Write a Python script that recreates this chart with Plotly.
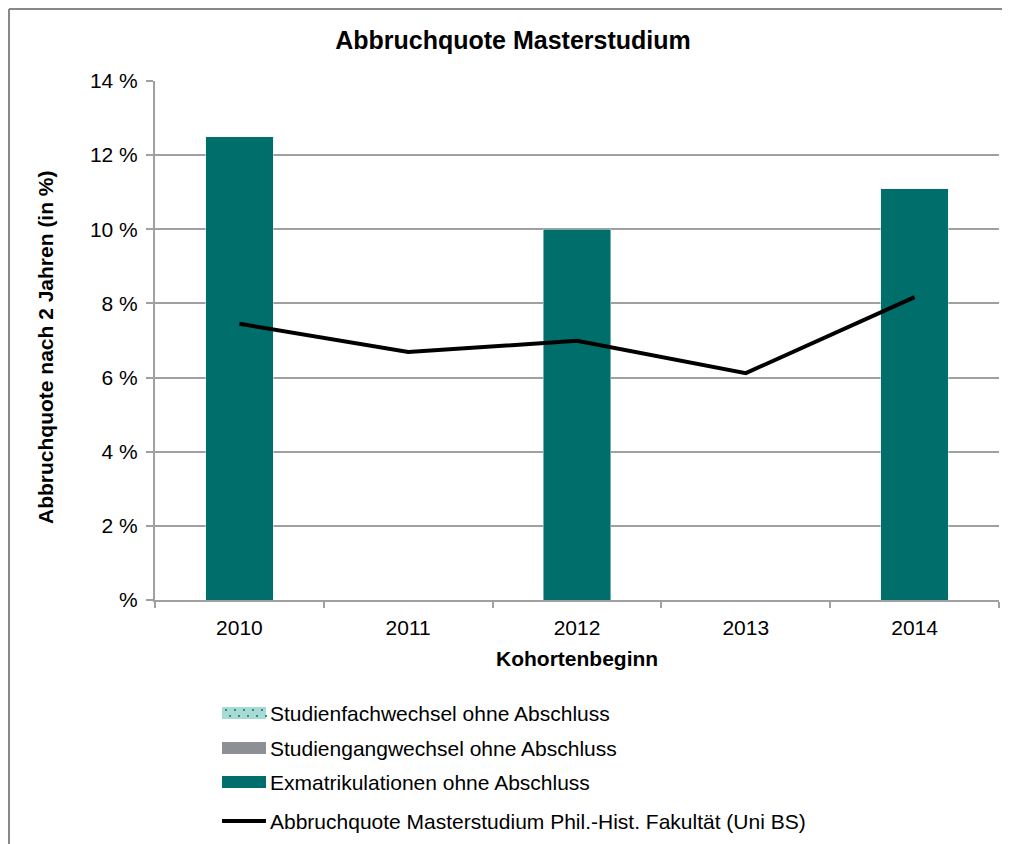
import plotly.graph_objects as go

# data
jahre = ["2010", "2011", "2012", "2013", "2014"]
fachwechsel = [0, 0, 0, 0, 0]
gangwechsel = [0, 0, 0, 0, 0]
exmatrikulation = [12.5, None, 10.0, None, 11.1]
abbruchquote_fak = [7.45, 6.69, 6.99, 6.12, 8.17]

ytick_vals = [0, 2, 4, 6, 8, 10, 12, 14]
ytick_text = ["%", "2 %", "4 %", "6 %", "8 %", "10 %", "12 %", "14 %"]

legend_names = [
    "Studienfachwechsel ohne Abschluss",
    "Studiengangwechsel ohne Abschluss",
    "Exmatrikulationen ohne Abschluss",
    "Abbruchquote Masterstudium Phil.-Hist. Fakultät (Uni BS)",
]

TEAL = "#006F6B"
GRAY = "#8C8F93"
LIGHT = "#A6DAD3"
GRID = "#A0A0A0"
FONT = "Liberation Sans, Arial, sans-serif"

# the page puts the plot 8px in from the top left corner
OFF = 8
W, H = 1010, 844
L, R, T, B = 147, 19, 73, 252
PW, PH = W - L - R, H - T - B


def px(x):
    # page pixel -> paper x
    return (x - OFF - L) / PW


def py(y):
    # page pixel -> paper y
    return (H - B - (y - OFF)) / PH


fig = go.Figure()
fig.add_trace(go.Bar(x=jahre, y=fachwechsel, name=legend_names[0],
                     marker_color=LIGHT, showlegend=False))
fig.add_trace(go.Bar(x=jahre, y=gangwechsel, name=legend_names[1],
                     marker_color=GRAY, showlegend=False))
fig.add_trace(go.Bar(x=jahre, y=exmatrikulation, name=legend_names[2],
                     marker_color=TEAL, showlegend=False))
fig.add_trace(go.Scatter(x=jahre, y=abbruchquote_fak, name=legend_names[3],
                         mode="lines", line=dict(color="black", width=4),
                         showlegend=False))

fig.update_layout(
    width=W, height=H,
    margin=dict(l=L, r=R, t=T, b=B),
    barmode="stack",
    bargap=0.6,
    plot_bgcolor="white",
    paper_bgcolor="white",
    font=dict(family=FONT, size=21, color="black"),
    title=dict(text="<b>Abbruchquote Masterstudium</b>", x=(513 - OFF) / W, xanchor="center",
               y=1 - (40 - OFF) / H, yanchor="middle", font=dict(size=25)),
)

fig.update_xaxes(
    type="category",
    showline=True, linecolor=GRID, linewidth=2,
    ticks="outside", tickson="boundaries", ticklen=6, tickcolor=GRID, tickwidth=2,
    ticklabelstandoff=8,
    showgrid=False, tickfont=dict(size=21),
)
fig.update_yaxes(
    range=[0, 14],
    tickvals=ytick_vals, ticktext=ytick_text,
    showline=True, linecolor=GRID, linewidth=2,
    ticks="outside", ticklen=7, tickcolor=GRID, tickwidth=2,
    ticklabelstandoff=4,
    showgrid=True, gridcolor=GRID, gridwidth=2,
    zeroline=False, tickfont=dict(size=21),
)

# axis titles
fig.add_annotation(text="<b>Kohortenbeginn</b>", xref="paper", yref="paper",
                   x=px(577), y=py(658), xanchor="center", yanchor="middle",
                   showarrow=False, font=dict(size=21))
fig.add_annotation(text="<b>Abbruchquote nach 2 Jahren (in %)</b>", xref="paper", yref="paper",
                   x=px(45), y=py(347), xanchor="center", yanchor="middle",
                   showarrow=False, textangle=-90, font=dict(size=21))

# outer chart frame (left and top edges visible)
fig.add_shape(type="line", xref="paper", yref="paper", x0=px(9), x1=px(9), y0=py(9), y1=py(860),
              line=dict(color="#888888", width=2))
fig.add_shape(type="line", xref="paper", yref="paper", x0=px(9), x1=px(1030), y0=py(9), y1=py(9),
              line=dict(color="#888888", width=2))

# legend
rows = [713, 748, 782, 821]
fills = [LIGHT, GRAY, TEAL]
for i, yrow in enumerate(rows):
    if i < 3:
        fig.add_shape(type="rect", xref="paper", yref="paper",
                      x0=px(222), x1=px(266), y0=py(yrow - 6), y1=py(yrow + 6),
                      fillcolor=fills[i], line=dict(width=0))
    else:
        fig.add_shape(type="line", xref="paper", yref="paper",
                      x0=px(222), x1=px(266), y0=py(yrow), y1=py(yrow),
                      line=dict(color="black", width=4))
    fig.add_annotation(text=legend_names[i], xref="paper", yref="paper",
                       x=px(268), y=py(yrow), xanchor="left", yanchor="middle",
                       showarrow=False, font=dict(size=21))

# dotted pattern of first legend key
for k in range(5):
    for j, dy in enumerate([-3, 3]):
        dx = 225 + k * 9 + (4 if j else 0)
        fig.add_shape(type="rect", xref="paper", yref="paper",
                      x0=px(dx), x1=px(dx + 2), y0=py(713 + dy - 1), y1=py(713 + dy + 1),
                      fillcolor="#2A8F88", line=dict(width=0))

fig.write_html("out.html")
